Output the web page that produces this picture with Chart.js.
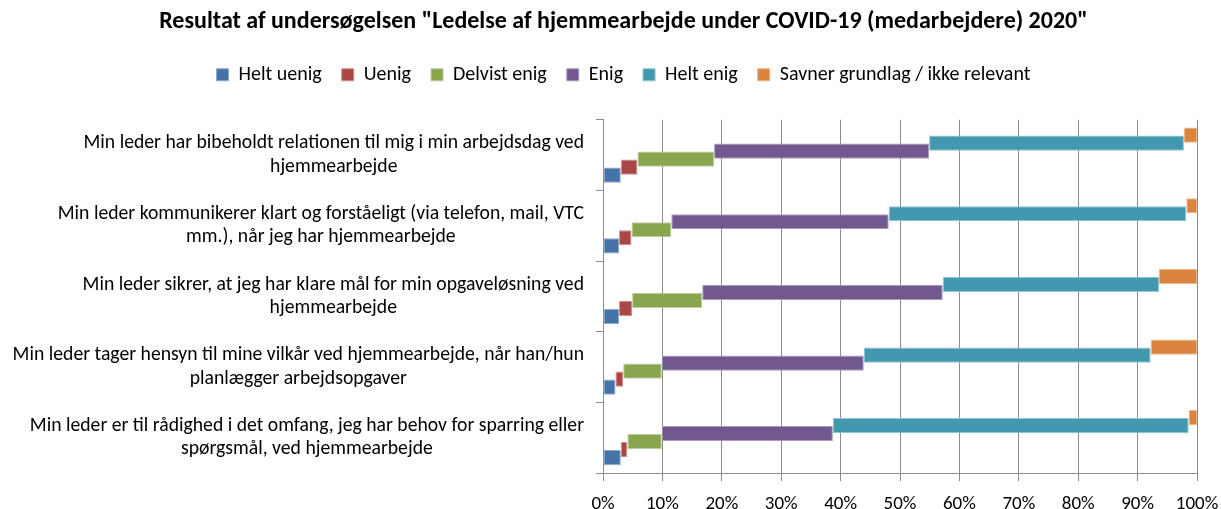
<!DOCTYPE html>
<html>
<head>
<meta charset="utf-8">
<script src="https://cdn.jsdelivr.net/npm/chart.js@4"></script>
<style>
  html, body { margin: 0; padding: 0; background: #fff; }
  #wrap { width: 1221px; height: 509px; }
</style>
</head>
<body>
<div id="wrap"><canvas id="chart" width="1221" height="509"></canvas></div>
<script>
const FONT = "Carlito, Calibri, Lato, sans-serif";

// questions, already wrapped as in the original
const categories = [
    ["Min leder har bibeholdt relationen til mig i min arbejdsdag ved", "hjemmearbejde"],
    ["Min leder kommunikerer klart og forståeligt (via telefon, mail, VTC", "mm.), når jeg har hjemmearbejde"],
    ["Min leder sikrer, at jeg har klare mål for min opgaveløsning ved", "hjemmearbejde"],
    ["Min leder tager hensyn til mine vilkår ved hjemmearbejde, når han/hun", "planlægger arbejdsopgaver"],
    ["Min leder er til rådighed i det omfang, jeg har behov for sparring eller", "spørgsmål, ved hjemmearbejde"]
];

const seriesNames = ["Helt uenig", "Uenig", "Delvist enig", "Enig", "Helt enig", "Savner grundlag / ikke relevant"];
const seriesColors = ["#4572A7", "#AA4643", "#89A54E", "#71588F", "#4198AF", "#DB843D"];
const seriesEdges = ["#8fa9cc", "#cd8f8d", "#bccda0", "#aa9cbd", "#93c4d2", "#eab68b"];

// percent per category
const heltUenig   = [3.0, 2.7, 2.7, 2.1, 3.0];
const uenig       = [2.8, 2.1, 2.2, 1.3, 1.1];
const delvistEnig = [12.9, 6.7, 11.8, 6.5, 5.8];
const enig        = [36.2, 36.6, 40.5, 34.0, 28.8];
const heltEnig    = [42.9, 50.1, 36.4, 48.3, 59.9];
const savner      = [2.2, 1.8, 6.4, 7.8, 1.4];

const xTicks = [0, 10, 20, 30, 40, 50, 60, 70, 80, 90, 100];

const seriesValues = [heltUenig, uenig, delvistEnig, enig, heltEnig, savner];

// each segment floats from the running total, in its own slot (stair look)
const running = categories.map(() => 0);
const datasets = seriesValues.map((vals, s) => {
    const data = vals.map((v, i) => {
        const start = running[i];
        running[i] += v;
        return [start, running[i]];
    });
    return {
        label: seriesNames[s],
        data: data,
        backgroundColor: seriesColors[s],
        borderColor: seriesEdges[s],
        borderWidth: 1,
        borderSkipped: false,
        categoryPercentage: 0.68,
        barPercentage: 1.9
    };
}).reverse(); // first series sits lowest in each category

// y labels: lines centered on each other, block right aligned to the axis
const yLabelPlugin = {
    id: "yLabels",
    afterDraw(chart) {
        const ctx = chart.ctx;
        const yScale = chart.scales.y;
        const right = chart.chartArea.left - 19;
        const lineH = 23.5;
        ctx.save();
        ctx.font = "19.7px " + FONT;
        ctx.fillStyle = "#000";
        ctx.textAlign = "center";
        ctx.textBaseline = "middle";
        categories.forEach((lines, i) => {
            const y = yScale.getPixelForValue(i);
            const w = Math.max(...lines.map(l => ctx.measureText(l).width));
            const cx = right - w / 2;
            lines.forEach((l, j) => {
                ctx.fillText(l, cx, y + (j - (lines.length - 1) / 2) * lineH);
            });
        });
        ctx.restore();
    }
};

const legendHeightPlugin = {
    id: "legendHeight",
    beforeInit(chart) {
        const fit = chart.legend.fit;
        chart.legend.fit = function () {
            fit.bind(chart.legend)();
            this.height = 75;
        };
    }
};

new Chart(document.getElementById("chart"), {
    type: "bar",
    data: {
        labels: categories.map(c => c.join(" ")),
        datasets: datasets
    },
    plugins: [legendHeightPlugin, yLabelPlugin],
    options: {
        indexAxis: "y",
        responsive: false,
        animation: false,
        layout: { padding: { left: 50, right: 24, top: 0, bottom: 0 } },
        scales: {
            x: {
                min: 0,
                max: 100,
                afterBuildTicks: (axis) => { axis.ticks = xTicks.map(v => ({ value: v })); },
                afterFit: (axis) => {
                    axis.height = 36;
                    axis.paddingLeft = 0;
                    axis.paddingRight = 0;
                },
                ticks: {
                    callback: v => v + "%",
                    color: "#000",
                    font: { family: FONT, size: 19 },
                    padding: 12,
                    maxRotation: 0
                },
                grid: { color: "#8c8c8c", tickLength: 8, tickColor: "#8c8c8c" },
                border: { color: "#8c8c8c" }
            },
            y: {
                ticks: { display: false },
                afterFit: (axis) => { axis.width = 553; },
                grid: { drawOnChartArea: false, offset: true, tickLength: 7, tickColor: "#8c8c8c" },
                border: { color: "#8c8c8c" }
            }
        },
        plugins: {
            title: {
                display: true,
                text: 'Resultat af undersøgelsen "Ledelse af hjemmearbejde under COVID-19 (medarbejdere) 2020"',
                color: "#000",
                font: { family: FONT, size: 24, weight: "bold" },
                padding: { top: 8, bottom: 8 }
            },
            legend: {
                reverse: true,
                labels: {
                    boxWidth: 12,
                    boxHeight: 12,
                    padding: 20,
                    color: "#000",
                    font: { family: FONT, size: 20 }
                }
            },
            tooltip: { enabled: false }
        }
    }
});
</script>
</body>
</html>
